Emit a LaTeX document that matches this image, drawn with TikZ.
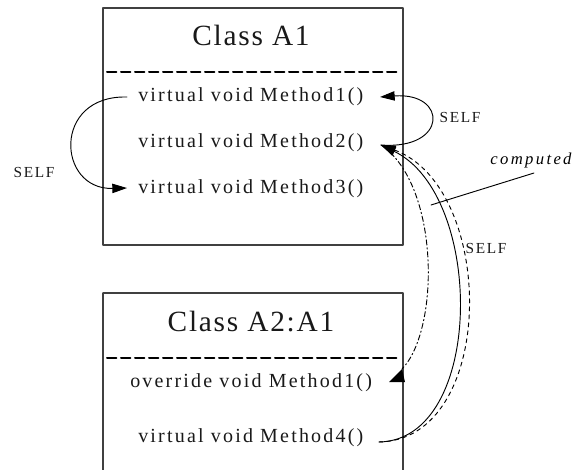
\documentclass[tikz,border=0pt]{standalone}
\usepackage{fontspec}
\setmainfont{Liberation Serif}
\newfontfamily\spacedfont[LetterSpace=11]{Liberation Serif}
\newfontfamily\widefont[LetterSpace=14]{Liberation Serif}
\newfontfamily\titlefont[LetterSpace=6]{Liberation Serif}
\usetikzlibrary{arrows.meta}

\tikzset{
  classbox/.style={draw=black!75, line width=1.1pt},
  divider/.style={line width=1.5pt, dash pattern=on 7pt off 3.5pt},
  classtitle/.style={font=\titlefont\fontsize{22}{26}\selectfont, text=black!90},
  method/.style={font=\spacedfont\fontsize{15}{18}\selectfont, anchor=west, inner sep=0pt, text=black!90},
  selflabel/.style={font=\spacedfont\fontsize{11.5}{14}\selectfont, inner sep=0pt, text=black!90},
  call/.style={-{Triangle[length=11pt,width=7pt]}, line width=0.7pt},
}

\begin{document}
\begin{tikzpicture}[x=0.75pt,y=-0.75pt,line cap=round,line join=round]
  \useasboundingbox (0,0) rectangle (576,469);
  \clip (0,0) rectangle (576,469);

  % class A1
  \draw[classbox] (103,8) rectangle (403,245);
  \node[classtitle] (titleA1) at (251,35) {Class A1};
  \draw[divider] (107,72) -- (398,72);
  \node[method] (m1) at (138,97) {virtual void Method1()};
  \node[method] (m2) at (138,143) {virtual void Method2()};
  \node[method] (m3) at (138,189) {virtual void Method3()};

  % class A2
  \draw[classbox] (103,293) -- (103,480) (103,293) -- (403,293) -- (403,480);
  \node[classtitle] (titleA2) at (251,322) {Class A2:A1};
  \draw[divider] (107,358) -- (398,358);
  \node[method] (m21) at (130,383) {override void Method1()};
  \node[method] (m4) at (138,438) {virtual void Method4()};

  % connector ends
  \coordinate (m1l) at (127,97);
  \coordinate (m3l) at (127,188);
  \coordinate (m1r) at (380,97);
  \coordinate (m2r) at (381,145);
  \coordinate (m4r) at (379,442);
  \coordinate (m21r) at (402,369);

  % calls
  \draw[call] (m1l) .. controls (52,95) and (57,190) .. (m3l);
  \node[selflabel] (selfA) at (34,172) {SELF};
  \draw[call] (m2r) .. controls (448,150) and (448,92) .. (m1r);
  \node[selflabel] (selfB) at (460,117) {SELF};
  \draw[call] (m4r) .. controls (485,440) and (485,195) .. (m2r);
  \draw[call, dashed] (m4r) .. controls (497,440) and (497,188) .. (m2r);
  \node[selflabel] (selfC) at (486,248) {SELF};
  \draw[line width=0.7pt, dash pattern=on 4pt off 2pt on 1pt off 2pt]
    (m2r) .. controls (440,185) and (440,330) .. (m21r);
  \fill (389,382) -- (405,382) -- (m21r) -- cycle;

  % computed
  \node[font=\widefont\itshape\fontsize{12.5}{15}\selectfont, inner sep=0pt] (comp) at (531,160) {computed};
  \coordinate (compA) at (431,205);
  \coordinate (compB) at (534,173);
  \draw[line width=0.7pt] (compA) -- (compB);
\end{tikzpicture}
\end{document}
